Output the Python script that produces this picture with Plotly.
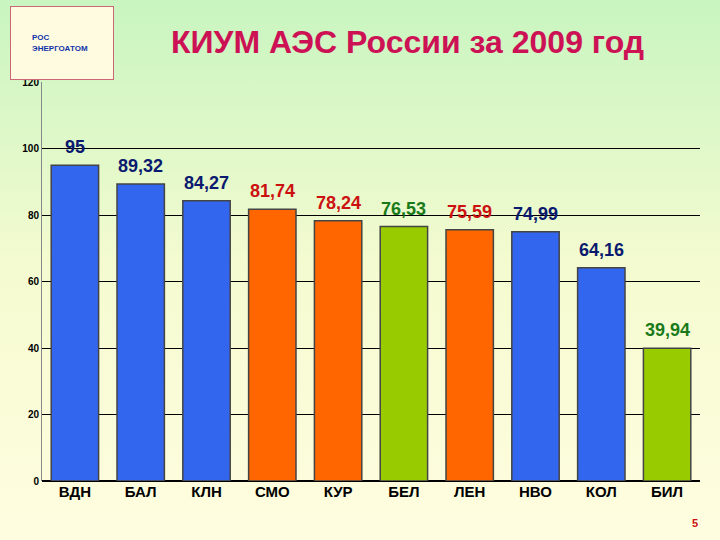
import plotly.graph_objects as go

categories = ["ВДН", "БАЛ", "КЛН", "СМО", "КУР", "БЕЛ", "ЛЕН", "НВО", "КОЛ", "БИЛ"]
values = [95, 89.32, 84.27, 81.74, 78.24, 76.53, 75.59, 74.99, 64.16, 39.94]
labels = ["95", "89,32", "84,27", "81,74", "78,24", "76,53", "75,59", "74,99", "64,16", "39,94"]
bar_colors = ["#3366ee", "#3366ee", "#3366ee", "#ff6600", "#ff6600", "#99cc00", "#ff6600", "#3366ee", "#3366ee", "#99cc00"]
label_colors = ["#0a1a6e", "#0a1a6e", "#0a1a6e", "#cc1111", "#cc1111", "#1a7a1a", "#cc1111", "#0a1a6e", "#0a1a6e", "#1a7a1a"]

bg = ("data:image/svg+xml;utf8,<svg xmlns='http://www.w3.org/2000/svg' width='720' height='540'>"
      "<defs><linearGradient id='g' x1='0' y1='0' x2='0' y2='1'>"
      "<stop offset='0' stop-color='%23c8f5c0'/><stop offset='0.5' stop-color='%23f5fbd0'/>"
      "<stop offset='1' stop-color='%23fffde0'/></linearGradient></defs>"
      "<rect width='720' height='540' fill='url(%23g)'/></svg>")

L, R, T, B = 42, 20, 82, 59
PW, PH = 720 - L - R, 540 - T - B

fig = go.Figure(go.Bar(
    x=categories, y=values, width=0.72,
    marker=dict(color=bar_colors, line=dict(color="#444444", width=1.5)),
))

value_annotations = [
    dict(x=c, y=v, text=t, xref="x", yref="y", showarrow=False, yanchor="bottom", yshift=6,
         font=dict(size=18, color=col, weight="bold"))
    for c, v, t, col in zip(categories, values, labels, label_colors)
]

fig.update_layout(
    width=720, height=540,
    margin=dict(l=L, r=R, t=T, b=B, autoexpand=False),
    paper_bgcolor="#f5fbd0", plot_bgcolor="rgba(0,0,0,0)",
    images=[dict(source=bg, xref="paper", yref="paper", x=-L / PW, y=1 + T / PH,
                 sizex=720 / PW, sizey=540 / PH,
                 xanchor="left", yanchor="top", sizing="stretch", layer="below")],
    showlegend=False, bargap=0.28,
    font=dict(family="Liberation Sans, Arial, sans-serif"),
    xaxis=dict(showline=False, ticks="", automargin=False,
               tickfont=dict(size=15, color="black", weight="bold")),
    yaxis=dict(range=[0, 120], dtick=20, showgrid=True, gridcolor="black", gridwidth=1,
               automargin=False,
               showline=True, linecolor="#888888", zeroline=True, zerolinecolor="black",
               tickfont=dict(size=10, color="black", weight="bold")),
    annotations=value_annotations + [
        dict(text="КИУМ АЭС России за 2009 год", xref="paper", yref="paper", x=0.555, y=1.0,
             yshift=40, yanchor="middle", showarrow=False,
             font=dict(size=32, color="#cc1155", weight="bold")),
        dict(text="<b>РОС<br>ЭНЕРГОАТОМ</b>", xref="paper", yref="paper", x=-0.048, y=1.0,
             xanchor="left", yanchor="bottom", yshift=2, showarrow=False, align="left",
             font=dict(size=8, color="#1133aa"), bgcolor="#fffbe0",
             bordercolor="#cc6677", borderwidth=1, borderpad=21, width=60, height=30),
        dict(text="<b>5</b>", xref="paper", yref="paper", x=1.0, y=0, yshift=-50, xanchor="right",
             showarrow=False, font=dict(size=11, color="#cc1111")),
    ],
)
fig.write_html("out.html", post_script="document.body.style.margin='0';",
               config={"displayModeBar": False})
